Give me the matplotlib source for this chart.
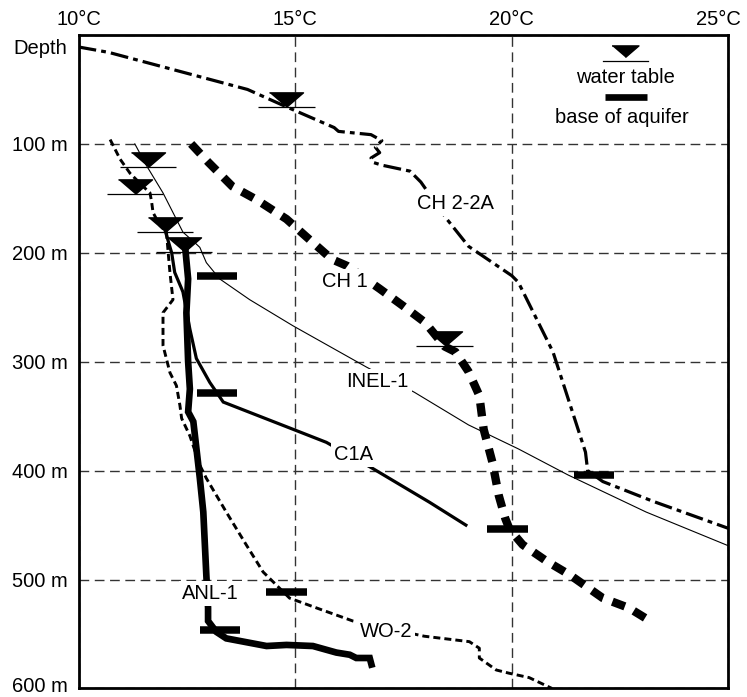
import matplotlib.pyplot as plt
from matplotlib.transforms import ScaledTranslation

plt.rcParams['font.family'] = ['Liberation Sans', 'DejaVu Sans']
plt.rcParams['font.size'] = 14.5

# Temperature profiles, temperature (°C) against depth (m)
ch22a_temp = [10.0, 10.7, 13.9, 14.8, 15.9, 16.0, 16.75, 17.0, 16.85, 16.95,
              16.75, 16.8, 17.0, 17.65, 17.9, 18.5, 19.0, 20.0, 20.15, 20.95,
              21.7, 21.75, 22.1, 23.25, 25.0]
ch22a_depth = [11, 16, 50, 66, 85, 88.5, 91.5, 97, 103, 108,
               113, 117, 119.5, 125, 135, 169, 194, 221, 227, 291,
               383, 400, 410, 428, 453]

ch1_temp = [12.6, 13.0, 13.55, 14.1, 14.8, 15.25, 15.85, 16.2, 16.95, 17.5,
            18.0, 18.45, 18.7, 19.0, 19.25, 19.35, 19.55, 19.7, 19.85, 19.95,
            20.25, 20.8, 21.35, 22.1, 22.7, 23.15]
ch1_depth = [100, 117, 139, 151, 169, 185, 206, 212, 233, 249,
             264, 286, 291, 309, 331, 362, 392, 423, 444, 454,
             468, 483, 496, 517, 526, 537]

inel1_temp = [11.3, 11.57, 11.95, 12.41, 12.72, 12.8, 12.95, 13.26, 13.95,
              14.95, 16.65, 17.75, 19.0, 20.15, 21.3, 23.1, 25.0]
inel1_depth = [100, 120, 145, 181, 192, 195, 209, 224, 243,
               267, 305, 328, 358, 380, 404, 438, 469]

wo2_temp = [10.73, 10.96, 11.19, 11.49, 11.65, 11.69, 11.72, 11.88, 12.03,
            12.07, 12.11, 12.18, 11.95, 11.95, 12.11, 12.26, 12.34, 12.38,
            12.57, 12.8, 12.95, 13.41, 13.87, 14.26, 14.49, 14.87, 15.49,
            16.33, 17.98, 19.02, 19.25, 19.25, 19.64, 19.94, 20.4, 20.93]
wo2_depth = [96, 114, 127, 139, 145, 154, 163, 175, 181,
             200, 218, 243, 255, 285, 310, 322, 340, 352,
             368, 395, 407, 438, 468, 493, 502, 517, 526,
             538, 552, 557, 563, 572, 583, 586, 590, 600]

c1a_temp = [12.01, 12.15, 12.22, 12.38, 12.41, 12.57, 12.72, 13.03, 13.34,
            14.95, 15.72, 16.79, 18.1, 18.94]
c1a_depth = [181, 200, 218, 233, 236, 270, 297, 319, 337,
             362, 374, 398, 429, 450]

anl1_temp = [12.45, 12.53, 12.49, 12.53, 12.57, 12.53, 12.65, 12.8, 12.88,
             12.95, 12.99, 12.99, 13.18, 13.41, 14.34, 14.8, 15.41, 15.95,
             16.26, 16.41, 16.72, 16.76]
anl1_depth = [190, 224, 255, 300, 325, 346, 355, 407, 438,
              496, 526, 538, 548, 554, 561, 560, 561, 567,
              569, 572, 572, 578]

# Water table levels and base of aquifer for the wells
water_table_temp = [14.8, 11.6, 11.3, 12.0, 12.43, 18.45]
water_table_depth = [66, 121, 146, 181, 199, 286]
aquifer_base_temp = [13.2, 13.2, 14.8, 13.27, 19.9, 21.9]
aquifer_base_depth = [221, 329, 511, 546, 454, 404]

# Well names, written next to their curves
well_names = ['CH 2-2A', 'CH 1', 'INEL-1', 'C1A', 'ANL-1', 'WO-2']
name_temp = [18.7, 16.15, 16.9, 16.35, 13.05, 17.1]
name_depth = [155, 226, 318, 385, 513, 548]

temp_ticks = [10, 15, 20, 25]
depth_ticks = [0, 100, 200, 300, 400, 500, 600]
depth_labels = ['Depth', '100 m', '200 m', '300 m', '400 m', '500 m', '600 m']

fig = plt.figure(figsize=(7.47, 6.97), dpi=100)
ax = fig.add_axes([0.1051, 0.0122, 0.8701, 0.9376])

ax.plot(ch22a_temp, ch22a_depth, color='black', lw=2.3,
        linestyle=(0, (5.6, 1.6, 1.5, 1.6)))
ax.plot(ch1_temp, ch1_depth, color='black', lw=6, linestyle=(0, (1.6, 1.2)))
ax.plot(inel1_temp, inel1_depth, color='black', lw=0.8)
ax.plot(wo2_temp, wo2_depth, color='black', lw=2.1, linestyle=(0, (2.4, 1.4)))
ax.plot(c1a_temp, c1a_depth, color='black', lw=2.3, solid_joinstyle='miter')
ax.plot(anl1_temp, anl1_depth, color='black', lw=4.8, solid_joinstyle='miter')

# water table: filled triangle sitting on a short line
triangle = [(-1, 0.86), (1, 0.86), (0, 0)]
ax.plot(water_table_temp, water_table_depth, linestyle='none', marker=triangle,
        ms=24.5, color='black', zorder=4)
ax.hlines(water_table_depth, [t - 0.65 for t in water_table_temp],
          [t + 0.65 for t in water_table_temp], color='black', lw=0.9, zorder=4)

# base of aquifer: thick bar
ax.hlines(aquifer_base_depth, [t - 0.465 for t in aquifer_base_temp],
          [t + 0.465 for t in aquifer_base_temp], color='black', lw=5.4,
          capstyle='butt', zorder=4)

for name, t, d in zip(well_names, name_temp, name_depth):
    ax.text(t, d, name, ha='center', va='center', zorder=5,
            bbox=dict(facecolor='white', edgecolor='none', pad=2))

# key in the upper right corner
ax.plot([0.8408], [0.9668], transform=ax.transAxes, marker=triangle, ms=19.4,
        color='black', linestyle='none')
ax.plot([0.807, 0.876], [0.9607, 0.9607], transform=ax.transAxes,
        color='black', lw=0.9)
ax.text(0.8408, 0.9357, 'water table', transform=ax.transAxes,
        ha='center', va='center')
ax.plot([0.81, 0.8746], [0.9056, 0.9056], transform=ax.transAxes,
        color='black', lw=4.8, solid_capstyle='butt')
ax.text(0.836, 0.8745, 'base of aquifer', transform=ax.transAxes,
        ha='center', va='center')

ax.set_xlim(10, 25)
ax.set_ylim(600, 0)
ax.xaxis.tick_top()
ax.set_xticks(temp_ticks)
ax.set_xticklabels([f'{t}°C' for t in temp_ticks])
ax.set_yticks(depth_ticks)
ax.set_yticklabels(depth_labels)
ax.tick_params(axis='x', length=0, pad=4)
ax.tick_params(axis='y', length=0, pad=8)

# keep the end labels inside the figure
ylabels = ax.get_yticklabels()
ylabels[0].set_va('top')
ylabels[0].set_transform(ylabels[0].get_transform() +
                         ScaledTranslation(0, -3 / 72, fig.dpi_scale_trans))
ylabels[-1].set_transform(ylabels[-1].get_transform() +
                          ScaledTranslation(0, 3 / 72, fig.dpi_scale_trans))
last = ax.get_xticklabels()[-1]
last.set_transform(last.get_transform() +
                   ScaledTranslation(-7 / 72, 0, fig.dpi_scale_trans))

ax.grid(True, color='#333333', lw=1.0, linestyle=(0, (7, 4)))
for spine in ax.spines.values():
    spine.set_linewidth(2)
    spine.set_zorder(6)

fig.savefig('out.png', dpi=100)
